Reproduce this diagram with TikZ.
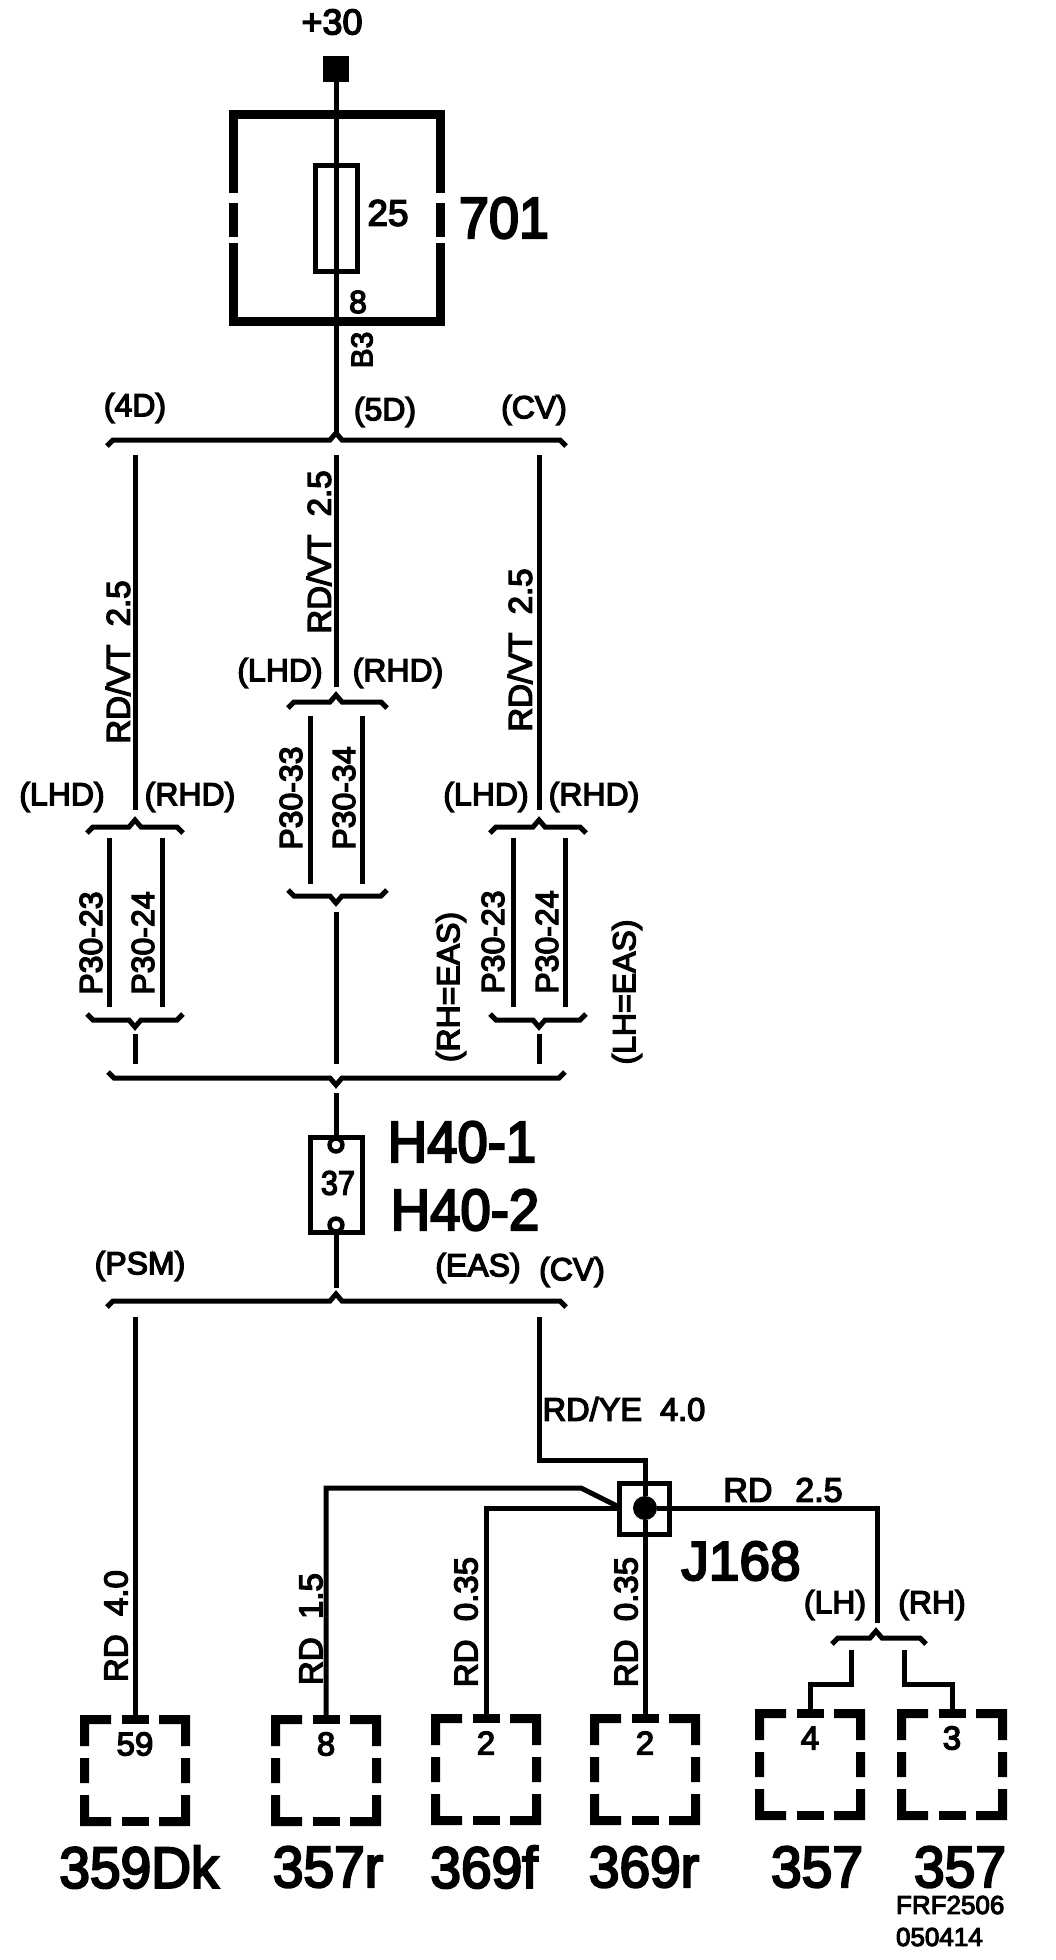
\documentclass[tikz,border=0pt]{standalone}
\usepackage{fontspec}
\setmainfont[RawFeature={embolden=4}]{Liberation Sans}
\usetikzlibrary{calc}
\newcommand{\fs}[1]{\fontsize{#1}{#1}\selectfont}
\newcommand{\cnd}[2]{\scalebox{#1}[1]{#2}}
\newcommand{\bracketup}[4]{%
  \draw[wire] (#1-6,#4+6) -- (#1,#4) -- (#2-6,#4) -- (#2,#4-7) -- (#2+6,#4) -- (#3,#4) -- (#3+6,#4+6);}
\newcommand{\bracketdn}[4]{%
  \draw[wire] (#1-6,#4-6) -- (#1,#4) -- (#2-6,#4) -- (#2,#4+7) -- (#2+6,#4) -- (#3,#4) -- (#3+6,#4-6);}
\newcommand{\conn}[4]{% name, cx, top y, label
  \begin{scope}[shift={(#2,#3)}]
    \coordinate (#1) at (0,0);
    \fill (-55,0) rectangle (-24,9) (-55,0) rectangle (-46,31);
    \fill (-13.5,0) rectangle (13.5,9);
    \fill (55,0) rectangle (24,9) (55,0) rectangle (46,31);
    \fill (-55,43) rectangle (-46,68) (55,43) rectangle (46,68);
    \fill (-55,111) rectangle (-24,102) (-55,111) rectangle (-46,80);
    \fill (-13.5,111) rectangle (13.5,102);
    \fill (55,111) rectangle (24,102) (55,111) rectangle (46,80);
    \node[font=\fs{33}] (#1n) at (0,29) {#4};
  \end{scope}}
\tikzset{
  wire/.style={line width=5pt,line cap=butt,line join=miter,black},
  lbl/.style={inner sep=0pt,outer sep=0pt,font=\fs{32}},
  big/.style={inner sep=0pt,outer sep=0pt,font=\fs{58}},
  vert/.style={rotate=90}
}
\begin{document}
\begin{tikzpicture}[x=1pt,y=-1pt]
\path[use as bounding box,fill=white] (0,0) rectangle (1056,1960);
% feed
\node[lbl,font=\fs{36}] (p30) at (332,22) {+30};
\node[fill=black,minimum size=26pt,inner sep=0pt] (term) at (336,69) {};
\draw[line width=9pt,line cap=butt] (233,193) -- (233,114.5) -- (440.5,114.5) -- (440.5,193)
  (233,203) -- (233,237) (440.5,203) -- (440.5,237)
  (233,243) -- (233,321.5) -- (440.5,321.5) -- (440.5,243);
\node[draw,line width=5pt,minimum width=42pt,minimum height=106pt,inner sep=0pt] (fuse) at (336,218) {};
\coordinate (b1c) at (336,434);
\draw[wire] (term) -- (b1c);
\node[lbl,font=\fs{37}] (f25) at (388,213) {25};
\node[big] (n701) at (504,218) {\cnd{.93}{701}};
\node[lbl] (p8) at (358,302) {8};
\node[lbl,vert,font=\fs{30}] (b3) at (362,350) {B3};
% top bus
\bracketup{113}{336}{560}{440}
\node[lbl] (t4d) at (135,408) {(4D)};
\node[lbl] (t5d) at (385,412) {(5D)};
\node[lbl] (tcv) at (534,410) {(CV)};
% column wires
\coordinate (la) at (135,455); \coordinate (lb) at (135,810);
\coordinate (ma) at (336,455); \coordinate (mb) at (336,687);
\coordinate (ra) at (539,455); \coordinate (rb) at (539,810);
\draw[wire] (la) -- (lb) (ma) -- (mb) (ra) -- (rb);
\node[lbl,vert,font=\fs{33}] (vl) at (118,662) {RD/VT\ \ 2.5};
\node[lbl,vert,font=\fs{33}] (vm) at (319,552) {RD/VT\ \ 2.5};
\node[lbl,vert,font=\fs{33}] (vr) at (520,650) {RD/VT\ \ 2.5};
% left
\bracketup{93}{135}{177}{827}
\node[lbl] (l1) at (62,797) {(LHD)};
\node[lbl] (l2) at (190,797) {(RHD)};
\coordinate (l3a) at (109,838); \coordinate (l3b) at (109,1007);
\coordinate (l4a) at (162,838); \coordinate (l4b) at (162,1007);
\draw[wire] (l3a) -- (l3b) (l4a) -- (l4b);
\node[lbl,vert] (l5) at (91,943) {P30-23};
\node[lbl,vert] (l6) at (143,943) {P30-24};
\bracketdn{93}{135}{177}{1020}
\coordinate (l7a) at (135,1034); \coordinate (l7b) at (135,1064);
\draw[wire] (l7a) -- (l7b);
% middle
\bracketup{294}{336}{381}{702}
\node[lbl] (m1) at (280,673) {(LHD)};
\node[lbl] (m2) at (398,673) {(RHD)};
\coordinate (m3a) at (310,716); \coordinate (m3b) at (310,884);
\coordinate (m4a) at (362,716); \coordinate (m4b) at (362,884);
\draw[wire] (m3a) -- (m3b) (m4a) -- (m4b);
\node[lbl,vert] (m5) at (291,798) {P30-33};
\node[lbl,vert] (m6) at (344,798) {P30-34};
\bracketdn{294}{336}{381}{896}
\coordinate (m7a) at (336,912); \coordinate (m7b) at (336,1064);
\draw[wire] (m7a) -- (m7b);
% right
\bracketup{496}{539}{580}{827}
\node[lbl] (r1) at (486,797) {(LHD)};
\node[lbl] (r2) at (594,797) {(RHD)};
\coordinate (r3a) at (513,838); \coordinate (r3b) at (513,1007);
\coordinate (r4a) at (565,838); \coordinate (r4b) at (565,1007);
\draw[wire] (r3a) -- (r3b) (r4a) -- (r4b);
\node[lbl,vert] (r5) at (493,942) {P30-23};
\node[lbl,vert] (r6) at (547,942) {P30-24};
\bracketdn{496}{539}{580}{1020}
\coordinate (r7a) at (539,1034); \coordinate (r7b) at (539,1064);
\draw[wire] (r7a) -- (r7b);
\node[lbl,vert] (rh) at (451,987) {(RH=EAS)};
\node[lbl,vert] (lh) at (627,992) {(LH=EAS)};
% lower bus
\bracketdn{114}{336}{559}{1078}
% H40
\node[draw,line width=5pt,minimum width=52pt,minimum height=95pt,inner sep=0pt] (h40) at (336,1184.5) {};
\node[draw,fill=white,circle,line width=4.4pt,minimum size=13pt,inner sep=0pt] (h1) at (336,1145) {};
\node[draw,fill=white,circle,line width=4.4pt,minimum size=13pt,inner sep=0pt] (h2) at (336,1225) {};
\coordinate (h0) at (336,1093); \coordinate (h3) at (336,1288);
\draw[wire] (h0) -- (h1) (h2) -- (h3);
\node[lbl,font=\fs{34}] (h37) at (338,1183) {\cnd{.9}{37}};
\node[big] (h401) at (462,1142) {\cnd{.94}{H40-1}};
\node[big] (h402) at (465,1210) {\cnd{.94}{H40-2}};
% bus 3
\bracketup{113}{336}{560}{1301}
\node[lbl] (psm) at (140,1266) {(PSM)};
\node[lbl] (eas) at (478,1268) {(EAS)};
\node[lbl] (cv3) at (572,1272) {(CV)};
% J168
\node[draw,line width=5pt,minimum width=50pt,minimum height=51pt,inner sep=0pt] (j) at (644.5,1509) {};
\node[fill=black,circle,minimum size=24pt,inner sep=0pt] (jd) at (645,1508) {};
\node[big,font=\fs{55}] (j168) at (741,1561) {J168};
\node[lbl,font=\fs{32.5}] (rdye) at (624,1409) {RD/YE\ \ 4.0};
\node[lbl,font=\fs{34}] (rd25) at (783,1490) {RD\ \ \hspace{4pt}2.5};
\coordinate (y1) at (539,1317);
\coordinate (y2) at (645,1460);
\draw[wire] (y1) |- (y2) -- (jd);
% connectors
\coordinate (psmw) at (135,1317);
\conn{c59}{135}{1715}{59}
\conn{c8}{326}{1715}{8}
\conn{c2a}{486}{1714}{2}
\conn{c2b}{645}{1714}{2}
\conn{c4}{810}{1709}{4}
\conn{c3}{952}{1709}{3}
\draw[wire] (psmw) -- (c59);
\coordinate (k1) at (581,1488); \coordinate (k2) at (617,1506);
\draw[wire] (c8) |- (k1) -- (k2);
\draw[wire] (c2a) |- (j.west |- jd);
\draw[wire] (jd) -- (c2b);
\coordinate (rw) at (877,1623);
\draw[wire] (jd) -| (rw);
\node[lbl,vert,font=\fs{33}] (v1) at (116,1626) {RD\ \ 4.0};
\node[lbl,vert,font=\fs{33}] (v2) at (311,1629) {RD\ \ 1.5};
\node[lbl,vert,font=\fs{33}] (v3) at (466,1622) {RD\ \ 0.35};
\node[lbl,vert,font=\fs{33}] (v4) at (626,1622) {RD\ \ 0.35};
\node[lbl] (lh2) at (835,1605) {(LH)};
\node[lbl] (rh2) at (932,1605) {(RH)};
\bracketup{838}{876}{920}{1638}
\coordinate (s1) at (851,1650); \coordinate (s2) at (904,1650);
\coordinate (s1b) at (810,1684); \coordinate (s2b) at (952,1684);
\draw[wire] (s1) |- (s1b) -- (c4);
\draw[wire] (s2) |- (s2b) -- (c3);
% connector names
\node[big] at (139,1867) (t1) {\cnd{.95}{359Dk}};
\node[big] at (328,1867) (t2) {\cnd{.95}{357r}};
\node[big] at (484,1867) (t3) {\cnd{.95}{369f}};
\node[big] at (644,1867) (t4) {\cnd{.95}{369r}};
\node[big] at (817,1867) (t5) {\cnd{.95}{357}};
\node[big] at (960,1867) (t6) {\cnd{.95}{357}};
\node[lbl,font=\fs{26},anchor=west] (frf) at (896,1905) {FRF2506};
\node[lbl,font=\fs{26},anchor=west] (dat) at (896,1937) {050414};
\end{tikzpicture}
\end{document}
